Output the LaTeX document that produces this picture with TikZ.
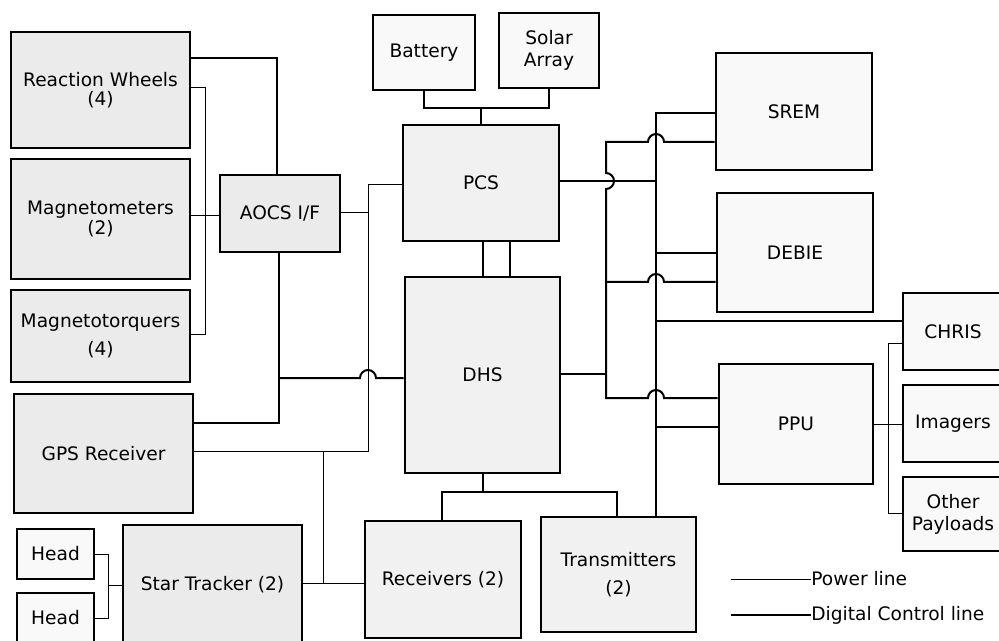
\documentclass[tikz,border=0pt]{standalone}
\usepackage{fontspec}
\setmainfont{DejaVu Sans}

\begin{document}
\begin{tikzpicture}[
    x=0.5pt, y=-0.5pt,
    font=\fontsize{9.3}{11}\selectfont,
    aocsbox/.style={draw, line width=1.3pt, fill=gray!16, align=center, inner sep=1pt},
    corebox/.style={draw, line width=1.3pt, fill=gray!11, align=center, inner sep=1pt},
    payloadbox/.style={draw, line width=1.3pt, fill=gray!5, align=center, inner sep=1pt},
    power/.style={line width=0.5pt},
    digital/.style={line width=1pt}
]
\useasboundingbox (0,0) rectangle (999,641);

% AOCS units
\node[aocsbox, minimum width=89.5pt, minimum height=58pt] (rw) at (100.5,90) {Reaction Wheels\\[-1.5pt](4)};
\node[aocsbox, minimum width=89.5pt, minimum height=60pt] (mag) at (100.5,219) {Magnetometers\\[-1pt](2)};
\node[aocsbox, minimum width=89.5pt, minimum height=46pt] (mtq) at (100.5,336) {Magnetotorquers\\[3pt](4)};
\node[aocsbox, minimum width=89.5pt, minimum height=59.5pt] (gps) at (103.5,453.5) {GPS Receiver};
\node[payloadbox, minimum width=38.5pt, minimum height=25pt] (heada) at (55.5,554) {Head};
\node[payloadbox, minimum width=38.5pt, minimum height=25pt] (headb) at (55.5,618) {Head};
\node[aocsbox, minimum width=89.5pt, minimum height=60pt] (star) at (212.5,585) {Star Tracker (2)};
\node[aocsbox, minimum width=60pt, minimum height=38.5pt] (aocs) at (280,213.5) {AOCS I/F};

% power and data handling
\node[payloadbox, minimum width=51pt, minimum height=37.5pt] (battery) at (424,52.5) {Battery};
\node[payloadbox, minimum width=50pt, minimum height=37.5pt] (solar) at (549,50.5) {Solar\\Array};
\node[corebox, minimum width=78pt, minimum height=58pt] (pcs) at (481,183) {PCS};
\node[corebox, minimum width=77.5pt, minimum height=98pt] (dhs) at (482.5,375) {DHS};
\node[corebox, minimum width=78pt, minimum height=58.5pt] (rx) at (443,579.5) {Receivers (2)};
\node[corebox, minimum width=77.5pt, minimum height=57.5pt] (tx) at (618.5,574.5) {Transmitters\\[3pt](2)};

% payloads
\node[payloadbox, minimum width=78pt, minimum height=58.5pt] (srem) at (794,111.5) {SREM};
\node[payloadbox, minimum width=78pt, minimum height=59.5pt] (debie) at (795,252.5) {DEBIE};
\node[payloadbox, minimum width=77pt, minimum height=60pt] (ppu) at (796,424) {PPU};
\node[payloadbox, minimum width=50pt, minimum height=38.5pt] (chris) at (953,331.5) {CHRIS};
\node[payloadbox, minimum width=50pt, minimum height=38.5pt] (imagers) at (953,423.5) {Imagers};
\node[payloadbox, minimum width=50pt, minimum height=37pt] (payloads) at (953,514) {Other\\Payloads};

% bus lines
\coordinate (hbus) at (108,0);
\coordinate (mbus) at (205,0);
\coordinate (abus) at (279,0);
\coordinate (sbus) at (323,0);
\coordinate (pbus) at (368,0);
\coordinate (dbus) at (606,0);
\coordinate (ebus) at (656,0);
\coordinate (ybus) at (888,0);

% AOCS side
\draw[digital] (rw.east |- 0,58) -| (aocs.north -| 277,0);
\draw[power] (rw.east |- 0,88) -| (mbus |- 0,334) -- (mtq.east |- 0,334);
\draw[power] (mag.east |- 0,216) -- (aocs.west |- 0,216);
\draw[digital] (aocs.south -| abus) |- (gps.east |- 0,423);
\draw[digital] (abus |- 0,378) -- (360,378) arc[start angle=180, end angle=0, radius=4pt] -- (dhs.west |- 0,378);

\draw[power] (pcs.west |- 0,185) -| (pbus |- 0,451) -- (gps.east |- 0,451);
\draw[power] (aocs.east |- 0,213) -- (pbus |- 0,213);
\draw[power] (sbus |- 0,451) -- (sbus |- 0,583);
\draw[power] (star.east |- 0,583) -- (rx.west |- 0,583);
\draw[power] (heada.east) -| (hbus |- headb.east) -- (headb.east);
\draw[power] (star.west -| hbus) -- (star.west);

% PCS and DHS
\draw[digital] (battery.south) -- ++(0,17) -| (solar.south);
\draw[digital] (pcs.north) -- (pcs.north |- 0,107);
\draw[digital] (pcs.south -| 483,0) -- (dhs.north -| 483,0);
\draw[digital] (pcs.south -| 510,0) -- (dhs.north -| 510,0);
\draw[digital] (dhs.south) -- ++(0,19);
\draw[digital] (rx.north -| 442,0) -- (442,492) -| (tx.north -| 617,0);

% payload buses
\draw[digital] (pcs.east |- 0,181) -- (ebus |- 0,181);
\draw[digital] (dhs.east |- 0,374) -- (dbus |- 0,374);
\draw[digital] (srem.west |- 0,113) -| (tx.north -| ebus);
\draw[digital] (srem.west |- 0,142) -- (664,142) arc[start angle=0, end angle=180, radius=4pt]
    -| (606,173) arc[start angle=90, end angle=-90, radius=4pt]
    |- (648,398) arc[start angle=180, end angle=0, radius=4pt] -- (ppu.west |- 0,398);
\draw[digital] (dbus |- 0,282) -- (648,282) arc[start angle=180, end angle=0, radius=4pt] -- (debie.west |- 0,282);
\draw[digital] (ebus |- 0,253) -- (debie.west |- 0,253);
\draw[digital] (ebus |- 0,321) -- (chris.west |- 0,321);
\draw[digital] (ebus |- 0,427) -- (ppu.west |- 0,427);

\draw[power] (ppu.east) -- (imagers.west |- ppu.east);
\draw[power] (chris.west |- 0,343) -| (ybus |- 0,513) -- (payloads.west |- 0,513);

% legend
\node[anchor=west, inner sep=0pt] (powerkey) at (811,579) {Power line};
\node[anchor=west, inner sep=0pt] (digitalkey) at (811,615) {Digital Control line};
\draw[power] (powerkey.west) -- ++(-80,0);
\draw[digital] (digitalkey.west) -- ++(-80,0);
\end{tikzpicture}
\end{document}
